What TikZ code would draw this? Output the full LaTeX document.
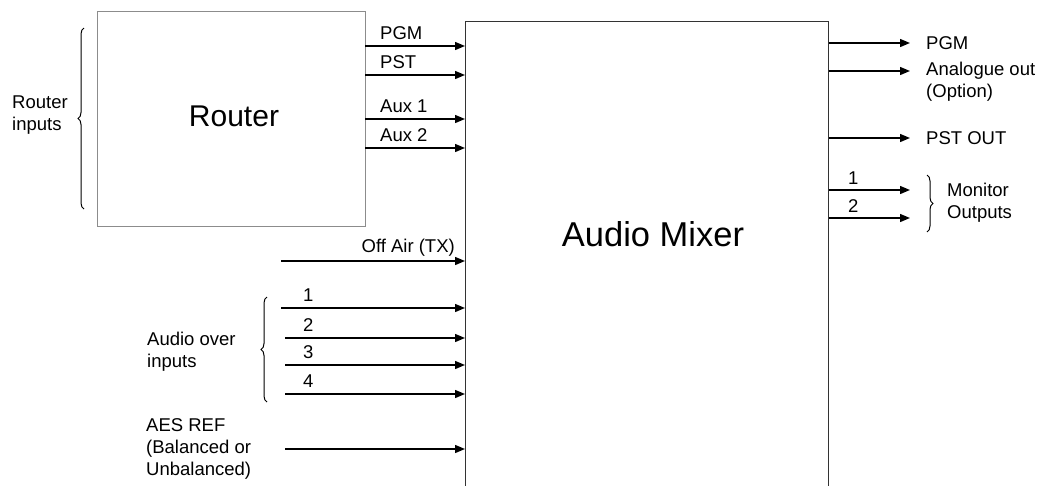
\documentclass[tikz,border=0pt]{standalone}
\usepackage{fontspec}
\setmainfont{Liberation Sans}
\usetikzlibrary{arrows.meta,decorations.pathreplacing}
\begin{document}
\begin{tikzpicture}[x=1pt,y=-1pt,
  arr/.style={line width=1.4pt,-{Triangle[length=10pt,width=8pt]}},
  lbl/.style={font=\fontsize{18.5}{22}\selectfont,inner sep=0pt,align=left},
  brc/.style={decorate,decoration={brace,amplitude=6pt},line width=1pt},
  box/.style={inner sep=0pt,anchor=north west}
]
\useasboundingbox (0,0) rectangle (1045,485);
\fill[white] (0,0) rectangle (1045,485);
% boxes
\node[box,draw=black!45,line width=1.2pt,minimum width=268pt,minimum height=215pt] (router) at (97,11) {};
\node[font=\fontsize{30}{33}\selectfont] (routert) at (234,116) {Router};
\node[box,draw=black!80,line width=1.4pt,minimum width=363pt,minimum height=520pt] (mixer) at (465,21) {};
\node[font=\fontsize{34.5}{38}\selectfont] (mixert) at (653,234) {Audio Mixer};
% router inputs
\node[lbl,anchor=west] (rin) at (12,115) {Router\\inputs};
\draw[brc] (84,209) -- (84,28);
% router -> mixer
\foreach \n/\y/\t in {pgm/46/PGM,pst/75/PST,aux1/119/Aux 1,aux2/148/Aux 2}{
  \coordinate (c\n) at (365,\y);
  \draw[arr] (c\n) -- (c\n -| mixer.west);
  \node[lbl,anchor=base west] (l\n) at (380,\y-7) {\t};
}
% off air
\coordinate (coff) at (281,261);
\draw[arr] (coff) -- (coff -| mixer.west);
\node[lbl,anchor=base east] (loff) at (455,252) {Off Air (TX)};
% audio over inputs
\foreach \n/\y/\xs in {1/308/281,2/338/285,3/365/285,4/394/285}{
  \coordinate (ca\n) at (\xs,\y);
  \draw[arr] (ca\n) -- (ca\n -| mixer.west);
  \node[lbl,anchor=base west] (la\n) at (303,\y-7) {\n};
}
\node[lbl,anchor=west] (laudio) at (147,352) {Audio over\\inputs};
\draw[brc] (267,402) -- (267,297);
% AES
\coordinate (caes) at (285,449);
\draw[arr] (caes) -- (caes -| mixer.west);
\node[lbl,anchor=west] (laes) at (146,449) {AES REF\\(Balanced or\\Unbalanced)};
% outputs
\foreach \n/\y in {opgm/43,oana/71,opst/138,om1/190,om2/218}{
  \coordinate (e\n) at (910,\y);
  \draw[arr] (mixer.east |- e\n) -- (e\n);
}
\node[lbl,anchor=west] (lopgm) at (926,43) {PGM};
\node[lbl,anchor=north west] (loana) at (926,62) {Analogue out\\(Option)};
\node[lbl,anchor=west] (lopst) at (926,138) {PST OUT};
\node[lbl,anchor=base west] (lom1) at (848,184) {1};
\node[lbl,anchor=base west] (lom2) at (848,212) {2};
\draw[brc] (927,175) -- (927,232);
\node[lbl,anchor=west] (lmon) at (947,203) {Monitor\\Outputs};
\end{tikzpicture}
\end{document}
